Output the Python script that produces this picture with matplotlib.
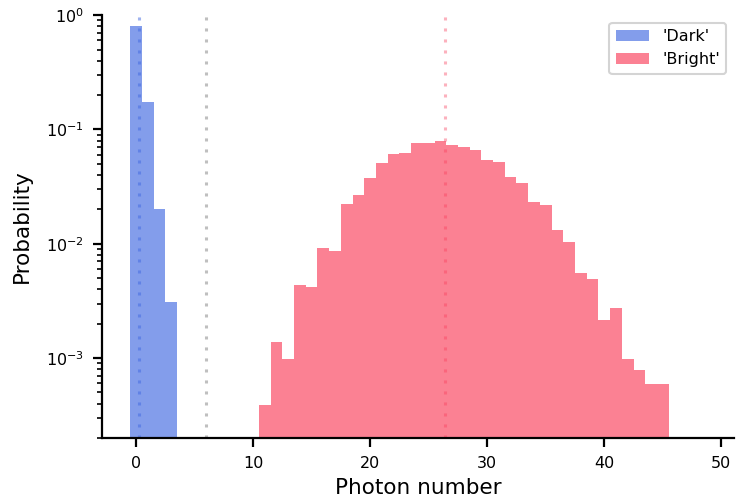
import numpy as np
import matplotlib
matplotlib.use("Agg")
import matplotlib.pyplot as plt

# photon-count histograms (probability per photon number)
dark_n = [0, 1, 2, 3]
dark_p = [0.80, 0.173, 0.0201, 0.0031]

bright_n = list(range(11, 46))
bright_p = [3.9e-4, 1.38e-3, 9.8e-4, 4.34e-3, 4.17e-3, 9.15e-3, 8.6e-3,
            0.0222, 0.0266, 0.0375, 0.0507, 0.0608, 0.0621, 0.0759, 0.0759,
            0.0791, 0.0729, 0.0700, 0.0659, 0.0539, 0.0518, 0.0383, 0.0339,
            0.0231, 0.0218, 0.0132, 0.0103, 5.5e-3, 4.9e-3, 2.15e-3, 2.73e-3,
            9.8e-4, 7.8e-4, 5.9e-4, 5.9e-4]

threshold = 6.0
dark_mean = sum(n * p for n, p in zip(dark_n, dark_p))
bright_mean = 26.4

blue = "#4169E1"
pink = "#F93D5A"

fig = plt.figure(figsize=(7.36, 5.04), dpi=100)
ax = fig.add_axes([0.1386, 0.131, 0.859, 0.839])

ax.bar(dark_n, dark_p, width=1.0, color=blue, alpha=0.65, linewidth=0, label="'Dark'")
ax.bar(bright_n, bright_p, width=1.0, color=pink, alpha=0.65, linewidth=0, label="'Bright'")

ax.axvline(dark_mean, color=blue, alpha=0.5, lw=2.2, ls=(0, (1, 2.6)))
ax.axvline(threshold, color="grey", alpha=0.5, lw=2.2, ls=(0, (1, 2.6)))
ax.axvline(bright_mean, color=pink, alpha=0.4, lw=2.2, ls=(0, (1, 2.6)))

ax.set_yscale("log")
ax.set_ylim(2e-4, 1)
ax.set_xlim(-2.9, 51.1)
ax.set_xticks([0, 10, 20, 30, 40, 50])

ax.set_xlabel("Photon number", fontsize=15.5, labelpad=5)
ax.set_ylabel("Probability", fontsize=15.5, labelpad=10)

for s in ["top", "right"]:
    ax.spines[s].set_visible(False)
for s in ["left", "bottom"]:
    ax.spines[s].set_linewidth(1.6)
ax.tick_params(which="major", length=6.5, width=1.6, labelsize=11.5, pad=6.5)
ax.tick_params(which="minor", length=3.5, width=1.2)

leg = ax.legend(loc="upper right", fontsize=11.5, framealpha=1,
                handlelength=2.1, borderaxespad=0.5)
leg.get_frame().set_edgecolor("#d4d4d4")
leg.get_frame().set_linewidth(1.5)

fig.savefig("out.png", dpi=100)
